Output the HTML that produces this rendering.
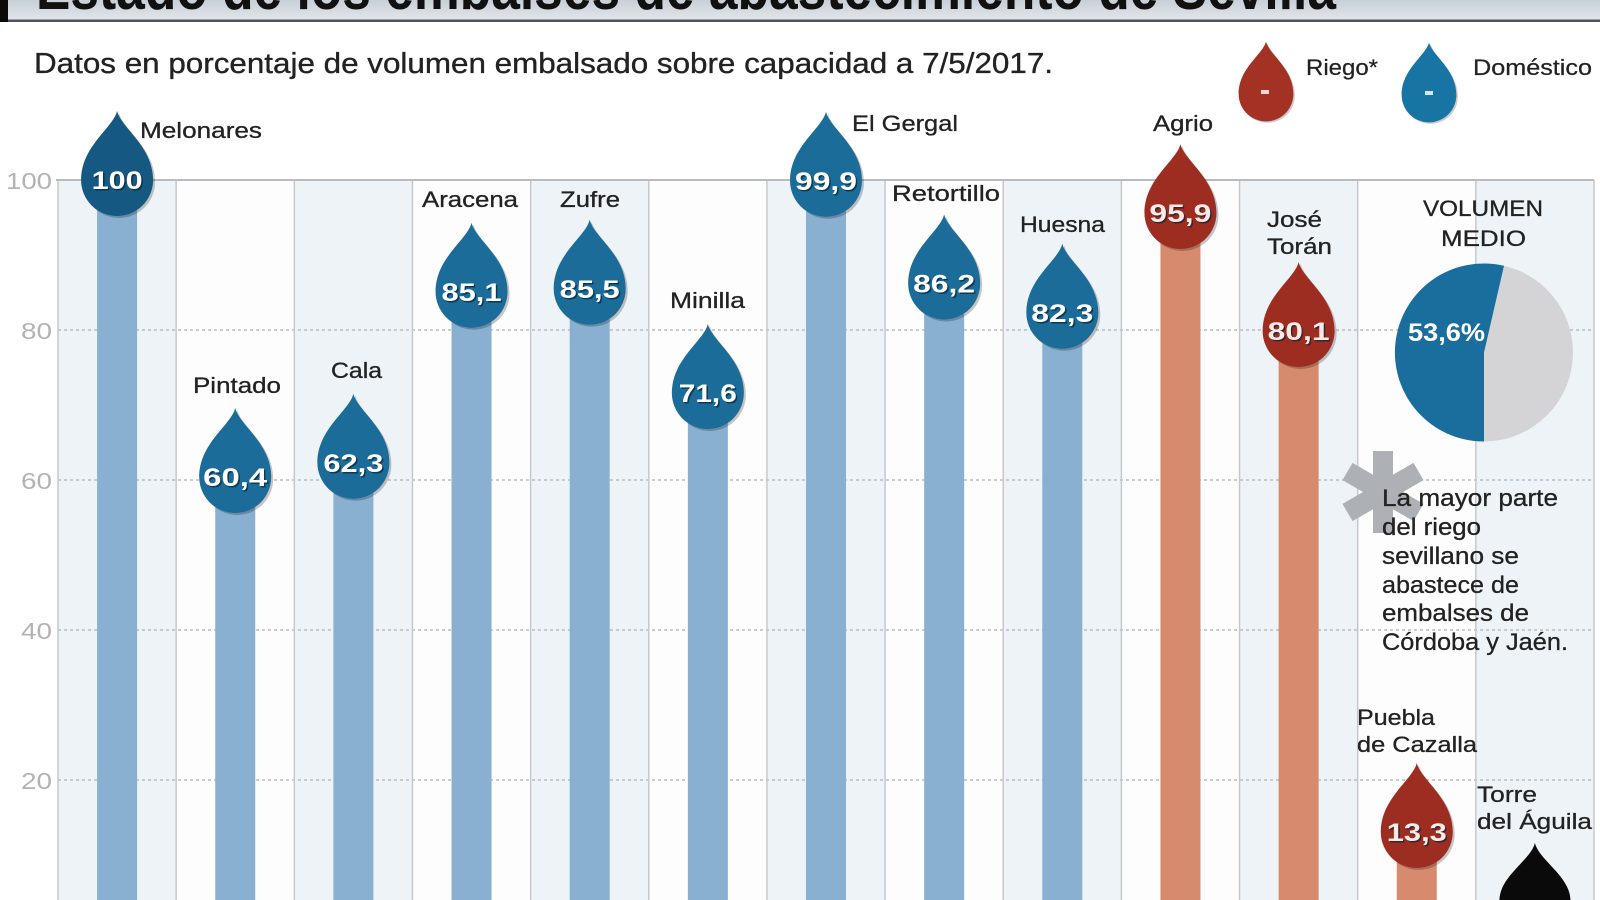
<!DOCTYPE html>
<html>
<head>
<meta charset="utf-8">
<style>
html,body{margin:0;padding:0;background:#fff;width:1600px;height:900px;overflow:hidden}
svg{display:block;overflow:hidden}
text{font-family:"Liberation Sans",sans-serif}
</style>
</head>
<body>
<svg width="1600" height="900" viewBox="0 0 1600 900" xmlns="http://www.w3.org/2000/svg">
<defs>
  <linearGradient id="tg" x1="0" y1="0" x2="0" y2="1">
    <stop offset="0" stop-color="#c8cfd7"/>
    <stop offset="1" stop-color="#e3e7eb"/>
  </linearGradient>
  <clipPath id="frame"><rect x="0" y="0" width="1600" height="900"/></clipPath>
  <path id="drop" d="M0,-69 C4,-52 36,-34 36,0 A36 36 0 0 1 -36,0 C-36,-34 -4,-52 0,-69 Z"/>
</defs>
<g clip-path="url(#frame)">

<!-- title bar -->
<rect x="0" y="0" width="1600" height="21" fill="url(#tg)"/>
<rect x="0" y="19.5" width="1600" height="2.5" fill="#4e5358"/>
<rect x="0" y="0" width="8" height="22" fill="#0a0a0a"/>
<text x="36" y="9" font-size="62" font-weight="bold" fill="#111" textLength="1300" lengthAdjust="spacingAndGlyphs">Estado de los embalses de abastecimiento de Sevilla</text>

<!-- subtitle -->
<text x="34" y="73" font-size="29" fill="#222" stroke="#222" stroke-width="0.35" textLength="1019" lengthAdjust="spacingAndGlyphs">Datos en porcentaje de volumen embalsado sobre capacidad a 7/5/2017.</text>

<!-- legend -->
<g transform="translate(1266,94) scale(0.76)"><use href="#drop" fill="rgba(0,0,0,0.2)" transform="translate(2,2)"/><use href="#drop" fill="#a33224"/></g>
<rect x="1261" y="90" width="8" height="4" fill="#f3d6cf"/>
<text x="1306" y="75" font-size="22" fill="#222" stroke="#222" stroke-width="0.25" textLength="72" lengthAdjust="spacingAndGlyphs">Riego*</text>
<g transform="translate(1429,95) scale(0.76)"><use href="#drop" fill="rgba(0,0,0,0.2)" transform="translate(2,2)"/><use href="#drop" fill="#1874a3"/></g>
<rect x="1425" y="91" width="8" height="4" fill="#d2e7f2"/>
<text x="1473" y="75" font-size="22" fill="#222" stroke="#222" stroke-width="0.25" textLength="119" lengthAdjust="spacingAndGlyphs">Doméstico</text>

<!-- column backgrounds -->
<g>
  <rect x="58" y="180" width="118.15" height="720" fill="#eef3f8"/>
  <rect x="176.15" y="180" width="118.15" height="720" fill="#fdfdfd"/>
  <rect x="294.31" y="180" width="118.15" height="720" fill="#eef3f8"/>
  <rect x="412.46" y="180" width="118.15" height="720" fill="#fdfdfd"/>
  <rect x="530.62" y="180" width="118.15" height="720" fill="#eef3f8"/>
  <rect x="648.77" y="180" width="118.15" height="720" fill="#fdfdfd"/>
  <rect x="766.92" y="180" width="118.15" height="720" fill="#eef3f8"/>
  <rect x="885.08" y="180" width="118.15" height="720" fill="#fdfdfd"/>
  <rect x="1003.23" y="180" width="118.15" height="720" fill="#eef3f8"/>
  <rect x="1121.38" y="180" width="118.15" height="720" fill="#fdfdfd"/>
  <rect x="1239.54" y="180" width="118.15" height="720" fill="#eef3f8"/>
  <rect x="1357.69" y="180" width="118.15" height="720" fill="#fdfdfd"/>
  <rect x="1475.85" y="180" width="118.15" height="720" fill="#eef3f8"/>
</g>

<!-- gridlines -->
<g stroke="#b9bdc2" stroke-width="1.5" stroke-dasharray="3 3">
  <line x1="58" y1="330" x2="1594" y2="330"/>
  <line x1="58" y1="480" x2="1594" y2="480"/>
  <line x1="58" y1="630" x2="1594" y2="630"/>
  <line x1="58" y1="780" x2="1594" y2="780"/>
</g>
<g stroke="#c5c9ce" stroke-width="1.5">
  <line x1="58" y1="180" x2="58" y2="900"/>
  <line x1="176.15" y1="180" x2="176.15" y2="900"/>
  <line x1="294.31" y1="180" x2="294.31" y2="900"/>
  <line x1="412.46" y1="180" x2="412.46" y2="900"/>
  <line x1="530.62" y1="180" x2="530.62" y2="900"/>
  <line x1="648.77" y1="180" x2="648.77" y2="900"/>
  <line x1="766.92" y1="180" x2="766.92" y2="900"/>
  <line x1="885.08" y1="180" x2="885.08" y2="900"/>
  <line x1="1003.23" y1="180" x2="1003.23" y2="900"/>
  <line x1="1121.38" y1="180" x2="1121.38" y2="900"/>
  <line x1="1239.54" y1="180" x2="1239.54" y2="900"/>
  <line x1="1357.69" y1="180" x2="1357.69" y2="900"/>
  <line x1="1475.85" y1="180" x2="1475.85" y2="900"/>
  <line x1="1594" y1="180" x2="1594" y2="900"/>
</g>
<line x1="56" y1="180" x2="1594" y2="180" stroke="#b8bcc1" stroke-width="2"/>

<!-- tick labels -->
<g font-size="23" fill="#b3b3b3">
  <text x="6" y="189" textLength="46" lengthAdjust="spacingAndGlyphs">100</text>
  <text x="21" y="339" textLength="31" lengthAdjust="spacingAndGlyphs">80</text>
  <text x="21" y="489" textLength="31" lengthAdjust="spacingAndGlyphs">60</text>
  <text x="21" y="639" textLength="31" lengthAdjust="spacingAndGlyphs">40</text>
  <text x="21" y="789" textLength="31" lengthAdjust="spacingAndGlyphs">20</text>
</g>

<!-- bars -->
<g fill="#89afd1">
  <rect x="97.08" y="180" width="40" height="720"/>
  <rect x="215.23" y="477" width="40" height="423"/>
  <rect x="333.38" y="462.75" width="40" height="437.25"/>
  <rect x="451.54" y="291.75" width="40" height="608.25"/>
  <rect x="569.69" y="288.75" width="40" height="611.25"/>
  <rect x="687.85" y="393" width="40" height="507"/>
  <rect x="806" y="180.75" width="40" height="719.25"/>
  <rect x="924.15" y="283.5" width="40" height="616.5"/>
  <rect x="1042.31" y="312.75" width="40" height="587.25"/>
</g>
<g fill="#d68b6f">
  <rect x="1160.46" y="213" width="40" height="687"/>
  <rect x="1278.62" y="331" width="40" height="569"/>
  <rect x="1396.77" y="832" width="40" height="68"/>
</g>

<!-- drops -->
<g>
  <g transform="translate(117.08,180)"><use href="#drop" fill="rgba(0,0,0,0.22)" transform="translate(2,2)"/><use href="#drop" fill="#155881"/></g>
  <g transform="translate(235.23,477)"><use href="#drop" fill="rgba(0,0,0,0.22)" transform="translate(2,2)"/><use href="#drop" fill="#1b6c98"/></g>
  <g transform="translate(353.38,462.75)"><use href="#drop" fill="rgba(0,0,0,0.22)" transform="translate(2,2)"/><use href="#drop" fill="#1b6c98"/></g>
  <g transform="translate(471.54,291.75)"><use href="#drop" fill="rgba(0,0,0,0.22)" transform="translate(2,2)"/><use href="#drop" fill="#1b6c98"/></g>
  <g transform="translate(589.69,288.75)"><use href="#drop" fill="rgba(0,0,0,0.22)" transform="translate(2,2)"/><use href="#drop" fill="#1b6c98"/></g>
  <g transform="translate(707.85,393)"><use href="#drop" fill="rgba(0,0,0,0.22)" transform="translate(2,2)"/><use href="#drop" fill="#1b6c98"/></g>
  <g transform="translate(826,180.75)"><use href="#drop" fill="rgba(0,0,0,0.22)" transform="translate(2,2)"/><use href="#drop" fill="#1b6c98"/></g>
  <g transform="translate(944.15,283.5)"><use href="#drop" fill="rgba(0,0,0,0.22)" transform="translate(2,2)"/><use href="#drop" fill="#1b6c98"/></g>
  <g transform="translate(1062.31,312.75)"><use href="#drop" fill="rgba(0,0,0,0.22)" transform="translate(2,2)"/><use href="#drop" fill="#1b6c98"/></g>
  <g transform="translate(1180.46,213)"><use href="#drop" fill="rgba(0,0,0,0.22)" transform="translate(2,2)"/><use href="#drop" fill="#9e2d21"/></g>
  <g transform="translate(1298.62,331)"><use href="#drop" fill="rgba(0,0,0,0.22)" transform="translate(2,2)"/><use href="#drop" fill="#9e2d21"/></g>
  <g transform="translate(1416.77,832)"><use href="#drop" fill="rgba(0,0,0,0.22)" transform="translate(2,2)"/><use href="#drop" fill="#9e2d21"/></g>
  <path transform="translate(1534.92,912)" d="M0,-69 C4,-52 35,-36 35.5,-12 L-35.5,-12 C-35,-36 -4,-52 0,-69 Z" fill="#0a0a0a"/>
</g>

<!-- value labels: shadow -->
<g font-size="25" font-weight="bold" fill="#06253a" fill-opacity="0.7" text-anchor="middle">
  <text x="118.6" y="190.5" textLength="51" lengthAdjust="spacingAndGlyphs">100</text>
  <text x="236.7" y="487.5" textLength="64" lengthAdjust="spacingAndGlyphs">60,4</text>
  <text x="354.9" y="473.25" textLength="60" lengthAdjust="spacingAndGlyphs">62,3</text>
  <text x="473" y="302.25" textLength="60" lengthAdjust="spacingAndGlyphs">85,1</text>
  <text x="591.2" y="299.25" textLength="60" lengthAdjust="spacingAndGlyphs">85,5</text>
  <text x="709.3" y="403.5" textLength="58" lengthAdjust="spacingAndGlyphs">71,6</text>
  <text x="827.5" y="191.25" textLength="62" lengthAdjust="spacingAndGlyphs">99,9</text>
  <text x="945.6" y="294" textLength="62" lengthAdjust="spacingAndGlyphs">86,2</text>
  <text x="1063.8" y="323.25" textLength="62" lengthAdjust="spacingAndGlyphs">82,3</text>
  <text x="1181.9" y="223.5" textLength="62" lengthAdjust="spacingAndGlyphs">95,9</text>
  <text x="1300.1" y="341.5" textLength="62" lengthAdjust="spacingAndGlyphs">80,1</text>
  <text x="1418.3" y="842.5" textLength="60" lengthAdjust="spacingAndGlyphs">13,3</text>
</g>
<g font-size="25" font-weight="bold" fill="#ffffff" text-anchor="middle">
  <text x="117.1" y="189" textLength="51" lengthAdjust="spacingAndGlyphs">100</text>
  <text x="235.2" y="486" textLength="64" lengthAdjust="spacingAndGlyphs">60,4</text>
  <text x="353.4" y="471.75" textLength="60" lengthAdjust="spacingAndGlyphs">62,3</text>
  <text x="471.5" y="300.75" textLength="60" lengthAdjust="spacingAndGlyphs">85,1</text>
  <text x="589.7" y="297.75" textLength="60" lengthAdjust="spacingAndGlyphs">85,5</text>
  <text x="707.8" y="402" textLength="58" lengthAdjust="spacingAndGlyphs">71,6</text>
  <text x="826" y="189.75" textLength="62" lengthAdjust="spacingAndGlyphs">99,9</text>
  <text x="944.1" y="292.5" textLength="62" lengthAdjust="spacingAndGlyphs">86,2</text>
  <text x="1062.3" y="321.75" textLength="62" lengthAdjust="spacingAndGlyphs">82,3</text>
  <text x="1180.4" y="222" textLength="62" lengthAdjust="spacingAndGlyphs" fill="#fbe9e4">95,9</text>
  <text x="1298.6" y="340" textLength="62" lengthAdjust="spacingAndGlyphs" fill="#fbe9e4">80,1</text>
  <text x="1416.8" y="841" textLength="60" lengthAdjust="spacingAndGlyphs" fill="#fbe9e4">13,3</text>
</g>

<!-- name labels -->
<g font-size="22" fill="#222" stroke="#222" stroke-width="0.3">
  <text x="140" y="138" textLength="122" lengthAdjust="spacingAndGlyphs">Melonares</text>
  <text x="193" y="393" textLength="88" lengthAdjust="spacingAndGlyphs">Pintado</text>
  <text x="331" y="378" textLength="51" lengthAdjust="spacingAndGlyphs">Cala</text>
  <text x="422" y="207" textLength="96" lengthAdjust="spacingAndGlyphs">Aracena</text>
  <text x="560" y="207" textLength="60" lengthAdjust="spacingAndGlyphs">Zufre</text>
  <text x="670" y="308" textLength="75" lengthAdjust="spacingAndGlyphs">Minilla</text>
  <text x="852" y="131" textLength="106" lengthAdjust="spacingAndGlyphs">El Gergal</text>
  <text x="892" y="201" textLength="108" lengthAdjust="spacingAndGlyphs">Retortillo</text>
  <text x="1020" y="232" textLength="85" lengthAdjust="spacingAndGlyphs">Huesna</text>
  <text x="1153" y="131" textLength="60" lengthAdjust="spacingAndGlyphs">Agrio</text>
  <text x="1267" y="227" textLength="55" lengthAdjust="spacingAndGlyphs">José</text>
  <text x="1267" y="254" textLength="65" lengthAdjust="spacingAndGlyphs">Torán</text>
  <text x="1423" y="216" textLength="120" lengthAdjust="spacingAndGlyphs">VOLUMEN</text>
  <text x="1441" y="246" textLength="85" lengthAdjust="spacingAndGlyphs">MEDIO</text>
  <text x="1357" y="725" textLength="78" lengthAdjust="spacingAndGlyphs">Puebla</text>
  <text x="1357" y="752" textLength="120" lengthAdjust="spacingAndGlyphs">de Cazalla</text>
  <text x="1477" y="802" textLength="60" lengthAdjust="spacingAndGlyphs">Torre</text>
  <text x="1477" y="829" textLength="115" lengthAdjust="spacingAndGlyphs">del Águila</text>
</g>

<!-- pie -->
<circle cx="1484" cy="352.5" r="89" fill="#d4d4d6"/>
<path d="M1484,352.5 L1484,441.5 A89 89 0 1 1 1504,265.8 Z" fill="#1a6e9d"/>
<text x="1446.5" y="341" font-size="25" font-weight="bold" fill="#fff" text-anchor="middle" textLength="77" lengthAdjust="spacingAndGlyphs">53,6%</text>

<!-- asterisk -->
<g transform="translate(1383,492)" fill="#adb0b4">
  <rect x="-10" y="-41" width="20" height="82"/>
  <rect x="-10" y="-41" width="20" height="82" transform="rotate(60)"/>
  <rect x="-10" y="-41" width="20" height="82" transform="rotate(120)"/>
</g>

<!-- note text -->
<g font-size="24" fill="#222" stroke="#222" stroke-width="0.3">
  <text x="1382" y="506" textLength="176" lengthAdjust="spacingAndGlyphs">La mayor parte</text>
  <text x="1382" y="535" textLength="99" lengthAdjust="spacingAndGlyphs">del riego</text>
  <text x="1382" y="564" textLength="137" lengthAdjust="spacingAndGlyphs">sevillano se</text>
  <text x="1382" y="593" textLength="137" lengthAdjust="spacingAndGlyphs">abastece de</text>
  <text x="1382" y="621" textLength="147" lengthAdjust="spacingAndGlyphs">embalses de</text>
  <text x="1382" y="650" textLength="186" lengthAdjust="spacingAndGlyphs">Córdoba y Jaén.</text>
</g>
</g>
</svg>
</body>
</html>
